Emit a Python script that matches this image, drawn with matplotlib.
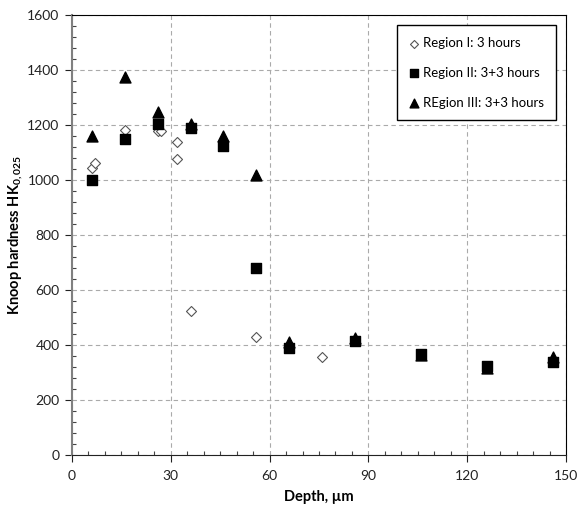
import matplotlib
matplotlib.use("Agg")
import matplotlib.pyplot as plt
from matplotlib.ticker import MultipleLocator

plt.rcParams['font.family'] = ['Lato', 'DejaVu Sans']
plt.rcParams['mathtext.fontset'] = 'custom'
plt.rcParams['mathtext.rm'] = 'Lato'
plt.rcParams['mathtext.bf'] = 'Lato:bold'

# Region I: 3 hours (open diamonds)
r1_depth = [6, 7, 16, 16, 26, 27, 32, 32, 36, 56, 76]
r1_hk = [1045, 1062, 1182, 1150, 1178, 1180, 1140, 1075, 525, 430, 358]

# Region II: 3+3 hours (filled squares)
r2_depth = [6, 16, 26, 36, 46, 56, 66, 86, 106, 126, 146]
r2_hk = [1000, 1149, 1204, 1188, 1122, 680, 388, 413, 367, 325, 340]

# Region III: 3+3 hours (filled triangles)
r3_depth = [6, 16, 26, 36, 46, 56, 66, 86, 106, 126, 146]
r3_hk = [1160, 1375, 1248, 1205, 1160, 1020, 410, 425, 365, 315, 358]

labels = ["Region I: 3 hours", "Region II: 3+3 hours", "REgion III: 3+3 hours"]
x_ticks = [0, 30, 60, 90, 120, 150]
y_ticks = [0, 200, 400, 600, 800, 1000, 1200, 1400, 1600]

fig = plt.figure(figsize=(5.77, 5.08), dpi=100)
ax = fig.add_axes([72/577, 1-455/508, (566-72)/577, (455-15)/508])

ax.scatter(r1_depth, r1_hk, marker='D', s=26, facecolors='white', edgecolors='#555555',
           linewidths=0.8, label=labels[0], zorder=3)
ax.scatter(r3_depth, r3_hk, marker='^', s=62, color='black', label=labels[2], zorder=4)
ax.scatter(r2_depth, r2_hk, marker='s', s=42, color='black', label=labels[1], zorder=5)

ax.set_xlim(0, 150)
ax.set_ylim(0, 1600)
ax.set_xticks(x_ticks)
ax.set_yticks(y_ticks)
ax.xaxis.set_minor_locator(MultipleLocator(5))
ax.yaxis.set_minor_locator(MultipleLocator(40))
ax.tick_params(which='major', direction='out', length=5, labelsize=10, colors='#222222', width=0.8)
ax.tick_params(which='minor', direction='in', length=3, width=0.8, colors='#444444')
ax.tick_params(axis='x', which='major', pad=6)
ax.tick_params(axis='y', which='major', pad=4)

ax.grid(True, which='major', linestyle=(0, (4, 3)), color='#aaaaaa', linewidth=0.8)
ax.set_axisbelow(True)

ax.spines['left'].set_color('#808080')
ax.spines['left'].set_linewidth(1.5)
ax.spines['bottom'].set_color('#222222')
ax.spines['top'].set_color('black')
ax.spines['right'].set_color('black')

ax.set_xlabel("Depth, µm", fontsize=10.5, fontweight='bold')
ax.xaxis.set_label_coords(0.5, -0.095)
ax.xaxis.label.set_va('center')
ax.set_ylabel(r"Knoop hardness HK$_{\mathbf{0,025}}$", fontsize=10.5, fontweight='bold')
ax.yaxis.set_label_coords(-0.113, 0.5)
ax.yaxis.label.set_va('center')

handles, labs = ax.get_legend_handles_labels()
order = [labs.index(l) for l in labels]
leg = ax.legend([handles[i] for i in order], [labs[i] for i in order],
                loc='upper right', bbox_to_anchor=(0.980, 0.977), borderaxespad=0,
                fontsize=9.5, frameon=True, fancybox=False, edgecolor='black', framealpha=1,
                labelspacing=1.35, handletextpad=0.3, borderpad=0.9, handlelength=0.8,
                markerscale=0.8)
leg.get_frame().set_linewidth(1.0)

fig.savefig("out.png", dpi=100)
